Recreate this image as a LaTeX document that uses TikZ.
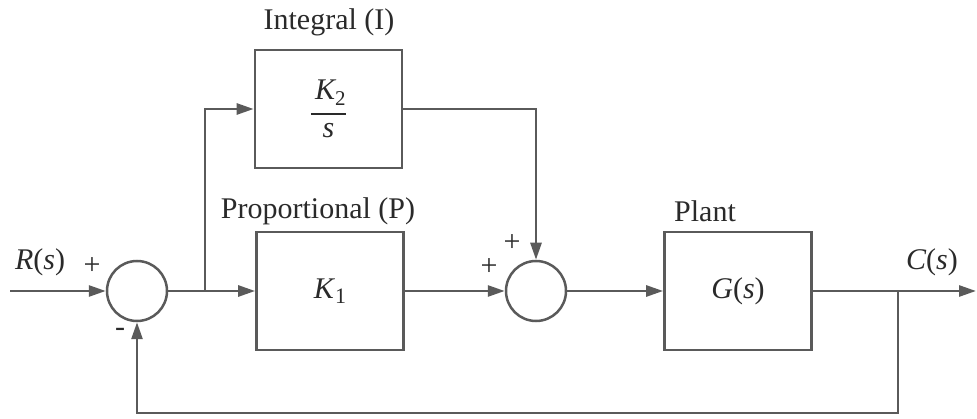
\documentclass[tikz,border=0pt]{standalone}
\usepackage{amsmath}
\usepackage{fontspec}
\setmainfont{Liberation Serif}
\usetikzlibrary{arrows.meta}
\definecolor{ln}{HTML}{5A5A5A}
\definecolor{tx}{HTML}{2A2A2A}
\begin{document}
\begin{tikzpicture}[x=1pt,y=-1pt,
  every node/.style={text=tx,font=\fontsize{30}{34}\selectfont},
  blk/.style={draw=ln,line width=2.7pt,rectangle,minimum width=147pt,minimum height=118pt,inner sep=0pt},
  sumnode/.style={draw=ln,line width=2.5pt,circle,minimum size=60pt,inner sep=0pt},
  conn/.style={draw=ln,line width=2.7pt},
  arr/.style={conn,-{Triangle[length=17pt,width=11pt]}},
  lbl/.style={inner sep=0pt}]
\useasboundingbox (0,0) rectangle (977,419);
\node[sumnode] (s1) at (137,291) {};
\node[sumnode] (s2) at (536,291) {};
\node[blk] (ib) at (328.5,109) {$\genfrac{}{}{2.5pt}{0}{\,\text{\itshape K}_{\text{2}}}{\text{\itshape s}}$};
\node[blk] (kb) at (330,291) {\itshape K\/\upshape\raisebox{-0.35ex}{\fontsize{22}{24}\selectfont 1}};
\node[blk] (pb) at (738,291) {\itshape G\upshape(\itshape s\upshape)};
\coordinate (in) at (10,291);
\coordinate (out) at (976,291);
\coordinate (b1) at (205,291);
\coordinate (b2) at (898,291);
\coordinate (u1) at (205,109);
\coordinate (u2) at (536,109);
\coordinate (f1) at (898,413);
\coordinate (f2) at (137,413);
\draw[arr] (in) -- (s1.west);
\draw[conn] (s1.east) -- (b1);
\draw[arr] (b1) -- (kb.west);
\draw[arr] (b1) -- (u1) -- (ib.west);
\draw[arr] (ib.east) -- (u2) -- (s2.north);
\draw[arr] (kb.east) -- (s2.west);
\draw[arr] (s2.east) -- (pb.west);
\draw[conn] (pb.east) -- (b2);
\draw[arr] (b2) -- (out);
\draw[arr] (b2) -- (f1) -- (f2) -- (s1.south);
\node[lbl] (lr) at (40,262) {\itshape R\upshape(\itshape s\upshape)};
\node[lbl] (lc) at (932,262) {\itshape C\upshape(\itshape s\upshape)};
\node[lbl] (p1) at (92,266) {+};
\node[lbl] (m1) at (120,332) {-};
\node[lbl] (p2) at (489,267) {+};
\node[lbl] (p3) at (512,243) {+};
\node[lbl] (li) at (329,22) {Integral (I)};
\node[lbl] (lp) at (318,211) {Proportional (P)};
\node[lbl] (lg) at (705,211) {Plant};
\end{tikzpicture}
\end{document}
